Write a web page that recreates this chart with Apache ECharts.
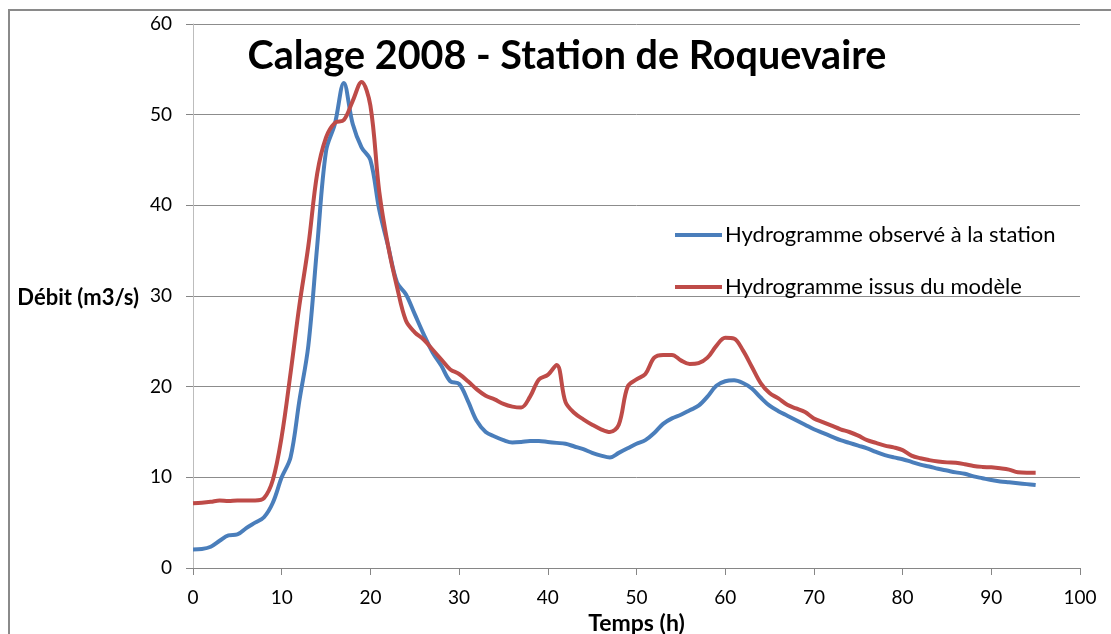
<!DOCTYPE html>
<html>
<head>
<meta charset="utf-8">
<script src="https://cdn.jsdelivr.net/npm/echarts@6/dist/echarts.min.js"></script>
<style>
html,body{margin:0;padding:0;background:#fff;}
#chart{width:1111px;height:634px;}
</style>
</head>
<body>
<div id="chart"></div>
<script>
const hours = [0,1,2,3,4,5,6,7,8,9,10,11,12,13,14,15,16,17,18,19,20,21,22,23,24,25,26,27,28,29,30,31,32,33,34,35,36,37,38,39,40,41,42,43,44,45,46,47,48,49,50,51,52,53,54,55,56,57,58,59,60,61,62,63,64,65,66,67,68,69,70,71,72,73,74,75,76,77,78,79,80,81,82,83,84,85,86,87,88,89,90,91,92,93,94,95];

const observed = [2.05,2.1,2.35,3.0,3.6,3.7,4.4,5.0,5.6,7.2,10.0,12.2,18.5,24.5,35.5,46.0,49.0,53.5,49.0,46.4,45.0,39.5,35.5,31.5,30.2,28.0,25.8,23.8,22.3,20.6,20.3,18.4,16.2,15.0,14.5,14.1,13.85,13.9,14.0,14.0,13.9,13.8,13.7,13.4,13.1,12.7,12.4,12.2,12.7,13.2,13.7,14.1,14.9,15.9,16.5,16.9,17.4,17.9,18.9,20.1,20.6,20.7,20.4,19.8,18.8,17.9,17.3,16.8,16.3,15.8,15.3,14.9,14.5,14.1,13.8,13.5,13.2,12.8,12.45,12.2,12.0,11.7,11.4,11.2,10.95,10.75,10.55,10.4,10.1,9.9,9.7,9.55,9.45,9.35,9.25,9.15];

const modelled = [7.15,7.2,7.3,7.45,7.4,7.45,7.45,7.45,7.7,9.7,14.5,21.5,29.0,35.5,43.5,47.5,49.1,49.4,51.5,53.6,51.0,41.5,35.5,31.0,27.3,26.0,25.2,24.1,23.0,21.9,21.4,20.6,19.7,19.0,18.6,18.1,17.8,17.7,18.9,20.8,21.3,22.4,18.3,17.1,16.4,15.8,15.3,15.0,15.8,20.0,20.8,21.4,23.2,23.5,23.5,22.9,22.5,22.6,23.2,24.5,25.4,25.3,24.0,22.2,20.4,19.3,18.7,18.0,17.6,17.2,16.5,16.1,15.7,15.3,15.0,14.6,14.1,13.8,13.5,13.3,13.0,12.4,12.1,11.9,11.75,11.65,11.6,11.45,11.25,11.15,11.1,11.0,10.85,10.55,10.5,10.5];

const seriesNames = ['Hydrogramme observé à la station', 'Hydrogramme issus du modèle'];
const titleText = 'Calage 2008 - Station de Roquevaire';
const xName = 'Temps (h)';
const yName = 'Débit (m3/s)';

const pair = arr => hours.map((h, i) => [h, arr[i]]);
const FONT = 'Lato';

const chart = echarts.init(document.getElementById('chart'), null, {renderer: 'canvas'});
chart.setOption({
  animation: false,
  backgroundColor: '#fff',
  textStyle: {fontFamily: FONT},
  title: {
    text: titleText,
    left: 562, top: 31,
    textAlign: 'center',
    textStyle: {fontFamily: FONT, fontWeight: 'bold', fontSize: 39.5, color: '#000'}
  },
  graphic: [
    {
      type: 'rect', shape: {x: 9, y: 10, width: 1200, height: 700},
      style: {fill: 'none', stroke: '#8a8a8a', lineWidth: 2}, silent: true, z: -1
    },
    {
      type: 'text', x: 139, y: 298,
      style: {
        text: yName, fill: '#000', align: 'right', verticalAlign: 'middle',
        font: 'bold 22px Lato'
      },
      silent: true
    }
  ],
  legend: {
    orient: 'vertical',
    left: 670, top: 219,
    itemWidth: 47, itemHeight: 4, itemGap: 30,
    icon: 'rect',
    textStyle: {fontFamily: FONT, fontSize: 22, color: '#000', padding: [0,0,0,-2]},
    data: seriesNames
  },
  grid: {left: 193, right: 31, top: 24, bottom: 66, containLabel: false, outerBoundsMode: 'none'},
  xAxis: {
    type: 'value', min: 0, max: 100, interval: 10,
    name: xName, nameLocation: 'middle', nameGap: 44, nameMoveOverlap: false,
    nameTextStyle: {fontFamily: FONT, fontWeight: 'bold', fontSize: 23, color: '#000'},
    axisLine: {show: true, lineStyle: {color: '#868686', width: 1}},
    axisTick: {show: true, length: 7, lineStyle: {color: '#868686'}},
    axisLabel: {margin: 20, fontFamily: FONT, fontSize: 19, color: '#000'},
    splitLine: {show: false}
  },
  yAxis: {
    type: 'value', min: 0, max: 60, interval: 10,
    axisLine: {show: true, lineStyle: {color: '#bdbdbd', width: 1}},
    axisTick: {show: true, length: 7, lineStyle: {color: '#868686'}},
    axisLabel: {margin: 21, fontFamily: FONT, fontSize: 19, color: '#000'},
    splitLine: {show: true, lineStyle: {color: '#8c8c8c', width: 1}}
  },
  series: [
    {
      name: seriesNames[0], type: 'line', data: pair(observed),
      smooth: 0.35, showSymbol: false, symbol: 'none',
      lineStyle: {color: '#4a7ebb', width: 4}, itemStyle: {color: '#4a7ebb'}, z: 2
    },
    {
      name: seriesNames[1], type: 'line', data: pair(modelled),
      smooth: 0.35, showSymbol: false, symbol: 'none',
      lineStyle: {color: '#be4b48', width: 4}, itemStyle: {color: '#be4b48'}, z: 3
    }
  ]
});
</script>
</body>
</html>
